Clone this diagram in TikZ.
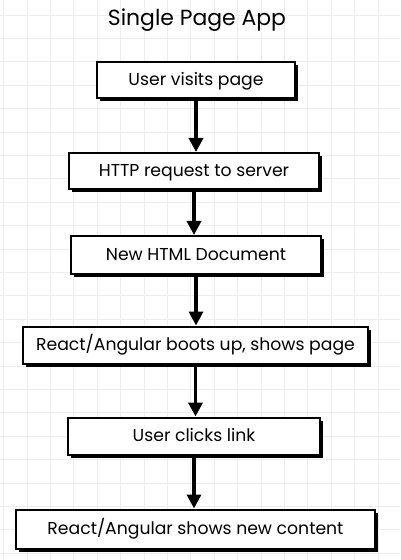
\documentclass[tikz,border=0pt]{standalone}
\usepackage{fontspec}
\setmainfont{Poppins}
\usetikzlibrary{arrows.meta,shadows}
\begin{document}
\begin{tikzpicture}[x=1bp,y=-1bp,
  stepbox/.style={draw=black, line width=2bp, fill=white, inner sep=0pt,
    font=\fontsize{17.3}{19}\selectfont, text height=11bp, text depth=0pt,
    drop shadow={shadow xshift=3bp, shadow yshift=-3bp, fill=black, opacity=1}},
  flow/.style={line width=3.5bp, -{Triangle[width=14bp,length=14bp]}},
  gridline/.style={draw=black!7, line width=0.8bp}]
\useasboundingbox (0,0) rectangle (400,560);
\fill[white] (0,0) rectangle (400,560);
\foreach \i in {0,...,17} {
  \draw[gridline] ({3.6+23.4*\i},0) -- ({3.6+23.4*\i},560);
}
\foreach \j in {0,...,23} {
  \draw[gridline] (0,{15+23.4*\j}) -- (400,{15+23.4*\j});
}
\node (title) at (197,20) {\fontsize{22}{24}\selectfont Single Page App};
\node[stepbox, minimum width=198bp, minimum height=36bp] (b1) at (196,80) {User visits page};
\node[stepbox, minimum width=250bp, minimum height=36bp] (b2) at (194,171) {HTTP request to server};
\node[stepbox, minimum width=250bp, minimum height=38bp] (b3) at (196,255) {New HTML Document};
\node[stepbox, minimum width=345bp, minimum height=37bp] (b4) at (195.5,345) {React/Angular boots up, shows page};
\node[stepbox, minimum width=252bp, minimum height=37bp] (b5) at (194,436) {User clicks link};
\node[stepbox, minimum width=359bp, minimum height=39bp] (b6) at (195.5,529) {React/Angular shows new content};
\draw[flow] (b1.south) -- (b1.south |- b2.north);
\draw[flow] (b2.south) -- (b2.south |- b3.north);
\draw[flow] (b3.south) -- (b3.south |- b4.north);
\draw[flow] (b4.south) -- (b4.south |- b5.north);
\draw[flow] (b5.south) -- (b5.south |- b6.north);
\end{tikzpicture}
\end{document}
